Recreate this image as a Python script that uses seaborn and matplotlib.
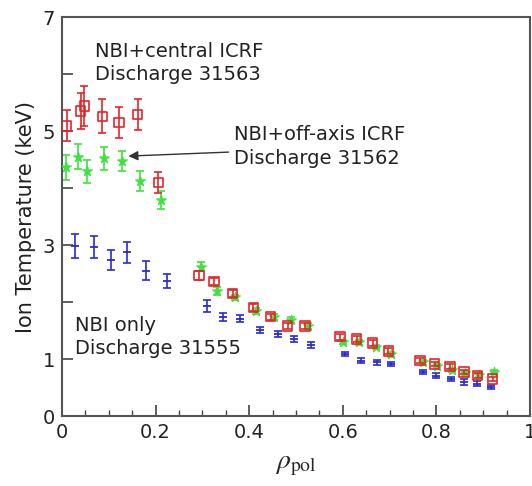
import matplotlib
matplotlib.use("Agg")
import matplotlib.pyplot as plt
import seaborn as sns
import numpy as np
import pandas as pd
from matplotlib.ticker import MultipleLocator, FixedLocator, FixedFormatter

# ---- data ----
red_x = [0.010, 0.040, 0.048, 0.086, 0.122, 0.162, 0.206,
         0.293, 0.325, 0.365, 0.409, 0.446, 0.482, 0.519,
         0.594, 0.630, 0.664, 0.697, 0.765, 0.796, 0.829, 0.859, 0.888, 0.920]
red_y = [5.09, 5.35, 5.44, 5.26, 5.15, 5.29, 4.10,
         2.46, 2.36, 2.15, 1.90, 1.74, 1.58, 1.58,
         1.39, 1.35, 1.28, 1.14, 0.97, 0.91, 0.87, 0.77, 0.71, 0.65]
red_err = [0.27, 0.31, 0.35, 0.30, 0.28, 0.28, 0.18,
           0.08, 0.07, 0.06, 0.06, 0.05, 0.05, 0.05,
           0.05, 0.05, 0.05, 0.05, 0.04, 0.04, 0.04, 0.04, 0.04, 0.04]

green_x = [0.008, 0.035, 0.053, 0.090, 0.128, 0.167, 0.212,
           0.297, 0.331, 0.370, 0.415, 0.453, 0.489, 0.525,
           0.600, 0.635, 0.670, 0.702, 0.771, 0.801, 0.833, 0.861, 0.891, 0.923]
green_y = [4.36, 4.55, 4.29, 4.52, 4.47, 4.12, 3.79,
           2.62, 2.20, 2.08, 1.84, 1.74, 1.68, 1.58,
           1.30, 1.29, 1.21, 1.08, 0.94, 0.88, 0.81, 0.75, 0.72, 0.77]
green_err = [0.22, 0.22, 0.20, 0.20, 0.18, 0.18, 0.15,
             0.08, 0.07, 0.05, 0.05, 0.05, 0.05, 0.05,
             0.04, 0.04, 0.04, 0.04, 0.04, 0.04, 0.04, 0.04, 0.04, 0.04]

blue_x = [0.028, 0.068, 0.105, 0.140, 0.179, 0.224,
          0.309, 0.343, 0.380, 0.423, 0.461, 0.496, 0.532,
          0.605, 0.640, 0.674, 0.704, 0.771, 0.799, 0.831, 0.859, 0.886, 0.917]
blue_y = [2.98, 2.96, 2.74, 2.87, 2.55, 2.37,
          1.93, 1.74, 1.71, 1.51, 1.44, 1.35, 1.25,
          1.09, 0.97, 0.94, 0.91, 0.77, 0.71, 0.65, 0.60, 0.57, 0.51]
blue_err = [0.21, 0.19, 0.17, 0.18, 0.17, 0.13,
            0.10, 0.07, 0.06, 0.06, 0.05, 0.05, 0.05,
            0.04, 0.04, 0.04, 0.04, 0.04, 0.04, 0.03, 0.05, 0.04, 0.03]

y_ticks = [0, 1, 2, 3, 4, 5, 6, 7]
y_tick_labels = ["0", "1", "", "3", "", "5", "", "7"]
x_ticks = [0, 0.2, 0.4, 0.6, 0.8, 1]
x_tick_labels = ["0", "0.2", "0.4", "0.6", "0.8", "1"]

RED = "#e3262a"
GREEN = "#3fe23f"
BLUE = "#2a2ad6"

sns.set_style("white")
plt.rcParams["font.family"] = ["DejaVu Sans"]
plt.rcParams["mathtext.fontset"] = "stix"

fig = plt.figure(figsize=(5.32, 4.86), dpi=100)
ax = fig.add_axes([0.1165, 0.144, 0.8797, 0.821])

df_r = pd.DataFrame({"x": red_x, "y": red_y})
df_g = pd.DataFrame({"x": green_x, "y": green_y})
df_b = pd.DataFrame({"x": blue_x, "y": blue_y})

ax.errorbar(blue_x, blue_y, yerr=blue_err, fmt="none", ecolor=BLUE,
            elinewidth=1.2, capsize=3, capthick=1.2, zorder=2)
sns.scatterplot(data=df_b, x="x", y="y", ax=ax, marker="_", s=40,
                color=BLUE, linewidth=1.3, zorder=3, legend=False)

ax.errorbar(green_x, green_y, yerr=green_err, fmt="none", ecolor=GREEN,
            elinewidth=1.2, capsize=3, capthick=1.2, zorder=2)
sns.scatterplot(data=df_g, x="x", y="y", ax=ax, marker="*", s=55,
                color=GREEN, edgecolor=GREEN, linewidth=0.8, zorder=3, legend=False)

ax.errorbar(red_x, red_y, yerr=red_err, fmt="none", ecolor=RED,
            elinewidth=1.2, capsize=3, capthick=1.2, zorder=4)
sns.scatterplot(data=df_r, x="x", y="y", ax=ax, marker="s", s=45,
                facecolor="none", edgecolor=RED, linewidth=1.2, zorder=5, legend=False)

ax.set_xlim(0, 1)
ax.set_ylim(0, 7)

ax.xaxis.set_major_locator(FixedLocator(x_ticks))
ax.xaxis.set_major_formatter(FixedFormatter(x_tick_labels))
ax.xaxis.set_minor_locator(MultipleLocator(0.05))
ax.yaxis.set_major_locator(FixedLocator(y_ticks))
ax.yaxis.set_major_formatter(FixedFormatter(y_tick_labels))

ax.tick_params(axis="both", which="major", direction="in", length=8, width=1.2,
               color="#444444", labelsize=14, labelcolor="#222222",
               bottom=True, left=True, top=False, right=False, pad=5)
ax.tick_params(axis="x", which="minor", direction="in", length=4, width=1.0,
               color="#444444", bottom=True, top=False)

for s in ax.spines.values():
    s.set_color("#555555")
    s.set_linewidth(1.5)

ax.set_xlabel(r"$\rho_{\mathrm{pol}}$", fontsize=20, labelpad=6)
ax.set_ylabel("Ion Temperature (keV)", fontsize=15, labelpad=5, color="#222222")

txt_kw = dict(fontsize=14, color="#222222", linespacing=1.3,
              va="top", ha="left", transform=ax.transData)
ax.text(0.071, 6.57, "NBI+central ICRF\nDischarge 31563", **txt_kw)
ax.text(0.367, 5.1, "NBI+off-axis ICRF\nDischarge 31562", **txt_kw)
ax.text(0.028, 1.76, "NBI only\nDischarge 31555", **txt_kw)

ax.annotate("", xy=(0.142, 4.56), xytext=(0.356, 4.63),
            arrowprops=dict(arrowstyle="-|>", color="#333333", lw=1.0,
                            mutation_scale=14, shrinkA=0, shrinkB=0))

fig.savefig("out.png", dpi=100)
